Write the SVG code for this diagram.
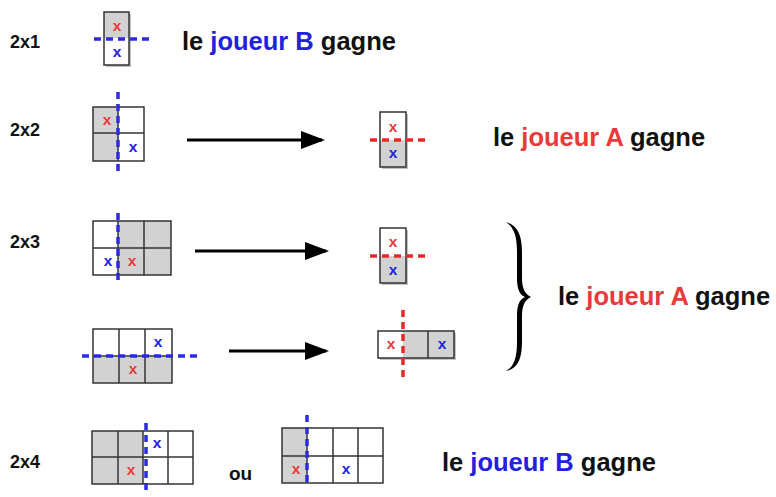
<svg xmlns="http://www.w3.org/2000/svg" width="776" height="497" viewBox="0 0 776 497">
<style>
text{font-family:"Liberation Sans",Arial,sans-serif;font-weight:bold}
.lbl{font-size:18px;fill:#111}
.big{font-size:25.5px;fill:#111}
.red{fill:#e83a3a}
.blue{fill:#2222dd}
.mk{font-size:15.5px;text-anchor:middle}
.g{fill:#d2d2d2}
.w{fill:#fff}
.grid{fill:none;stroke:#333;stroke-width:1.5}
.bd{fill:none;stroke:#2a2ae0;stroke-width:3.5;stroke-dasharray:7,5}
.rd{fill:none;stroke:#e82828;stroke-width:3.5;stroke-dasharray:7,5}
.arr{stroke:#000;stroke-width:3;fill:none}
.sh{fill:#888;opacity:0.5}
</style>
<defs>
<marker id="ah" markerWidth="8" markerHeight="6" refX="7" refY="3" orient="auto" markerUnits="strokeWidth">
<path d="M0,0 L8,3 L0,6 z" fill="#000"/>
</marker>
</defs>

<g id="labels">
<text class="lbl" x="10" y="48">2x1</text>
<text class="lbl" x="10" y="136">2x2</text>
<text class="lbl" x="10" y="248">2x3</text>
<text class="lbl" x="10" y="468">2x4</text>
</g>

<g id="n2x1">
<rect class="sh" x="106" y="14" width="25" height="53"/>
<rect class="g" x="104" y="12" width="25" height="26"/>
<rect class="w" x="104" y="38" width="25" height="27"/>
<rect class="grid" x="104" y="12" width="25" height="53"/>
<text class="mk red" x="117" y="31">x</text>
<text class="mk blue" x="117" y="57">x</text>
<line class="bd" x1="94" y1="39" x2="150" y2="39"/>
</g>
<g id="t1">
<text class="big" x="182" y="50">le <tspan class="blue">joueur B</tspan> gagne</text>
</g>

<g id="n2x2">
<rect class="g" x="93" y="107" width="25" height="54"/>
<rect class="w" x="118" y="107" width="26" height="54"/>
<rect class="grid" x="93" y="107" width="51" height="54"/>
<line class="grid" x1="93" y1="133" x2="144" y2="133"/>
<line class="grid" x1="118" y1="107" x2="118" y2="161"/>
<text class="mk red" x="107" y="125">x</text>
<text class="mk blue" x="133" y="152">x</text>
<line class="bd" x1="118" y1="92" x2="118" y2="176"/>
</g>

<g id="r2x2">
<rect class="sh" x="382" y="114" width="26" height="55"/>
<rect class="w" x="380" y="112" width="26" height="28"/>
<rect class="g" x="380" y="140" width="26" height="27"/>
<rect class="grid" x="380" y="112" width="26" height="55"/>
<text class="mk red" x="393" y="132">x</text>
<text class="mk blue" x="393" y="158">x</text>
<line class="rd" x1="370" y1="140" x2="428" y2="140"/>
</g>
<g id="t2">
<text class="big" x="493" y="146">le <tspan class="red">joueur A</tspan> gagne</text>
</g>

<g id="n2x3a">
<rect class="w" x="93" y="221" width="25" height="54"/>
<rect class="g" x="118" y="221" width="53" height="54"/>
<rect class="grid" x="93" y="221" width="78" height="54"/>
<line class="grid" x1="93" y1="248" x2="171" y2="248"/>
<line class="grid" x1="118" y1="221" x2="118" y2="275"/>
<line class="grid" x1="144" y1="221" x2="144" y2="275"/>
<text class="mk blue" x="108" y="266">x</text>
<text class="mk red" x="132" y="266">x</text>
<line class="bd" x1="118" y1="213" x2="118" y2="283"/>
</g>

<g id="r2x3a">
<rect class="sh" x="382" y="230" width="26" height="55"/>
<rect class="w" x="380" y="228" width="26" height="28"/>
<rect class="g" x="380" y="256" width="26" height="27"/>
<rect class="grid" x="380" y="228" width="26" height="55"/>
<text class="mk red" x="393" y="247">x</text>
<text class="mk blue" x="393" y="275">x</text>
<line class="rd" x1="370" y1="256" x2="428" y2="256"/>
</g>

<g id="n2x3b">
<rect class="w" x="93" y="329" width="79" height="27"/>
<rect class="g" x="93" y="356" width="79" height="27"/>
<rect class="grid" x="93" y="329" width="79" height="54"/>
<line class="grid" x1="93" y1="356" x2="172" y2="356"/>
<line class="grid" x1="119" y1="329" x2="119" y2="383"/>
<line class="grid" x1="145" y1="329" x2="145" y2="383"/>
<text class="mk blue" x="158" y="347">x</text>
<text class="mk red" x="133" y="374">x</text>
<line class="bd" x1="82" y1="356" x2="202" y2="356"/>
</g>

<g id="r1x3">
<rect class="sh" x="380" y="333" width="76" height="27"/>
<rect class="w" x="378" y="331" width="25" height="27"/>
<rect class="g" x="403" y="331" width="51" height="27"/>
<rect class="grid" x="378" y="331" width="76" height="27"/>
<line class="grid" x1="428" y1="331" x2="428" y2="358"/>
<text class="mk red" x="391" y="349">x</text>
<text class="mk blue" x="442" y="349">x</text>
<line class="rd" x1="403" y1="310" x2="403" y2="378"/>
</g>

<g id="brace">
<path d="M506,222 C517,225 522,234 522,252 L522,278 C522,289 525,294 531,297 C525,300 522,305 522,316 L522,342 C522,360 517,369 506,371 C513,367 517,360 517,342 L517,316 C517,304 520,299 525,297 C520,295 517,290 517,278 L517,252 C517,234 513,227 506,222 Z" fill="#000"/>
</g>
<g id="t3">
<text class="big" x="558" y="305">le <tspan class="red">joueur A</tspan> gagne</text>
</g>

<g id="n2x4a">
<rect class="g" x="92" y="431" width="51" height="53"/>
<rect class="w" x="143" y="431" width="50" height="53"/>
<rect class="grid" x="92" y="431" width="101" height="53"/>
<line class="grid" x1="92" y1="457" x2="193" y2="457"/>
<line class="grid" x1="118" y1="431" x2="118" y2="484"/>
<line class="grid" x1="143" y1="431" x2="143" y2="484"/>
<line class="grid" x1="168" y1="431" x2="168" y2="484"/>
<text class="mk blue" x="157" y="448">x</text>
<text class="mk red" x="131" y="475">x</text>
<line class="bd" x1="146" y1="423" x2="146" y2="491"/>
</g>
<g id="ou">
<text x="229" y="480" style="font-size:19px;fill:#111">ou</text>
</g>
<g id="n2x4b">
<rect class="g" x="282" y="428" width="25" height="55"/>
<rect class="w" x="307" y="428" width="76" height="55"/>
<rect class="grid" x="282" y="428" width="101" height="55"/>
<line class="grid" x1="282" y1="456" x2="383" y2="456"/>
<line class="grid" x1="307" y1="428" x2="307" y2="483"/>
<line class="grid" x1="333" y1="428" x2="333" y2="483"/>
<line class="grid" x1="358" y1="428" x2="358" y2="483"/>
<text class="mk red" x="296" y="474">x</text>
<text class="mk blue" x="346" y="474">x</text>
<line class="bd" x1="307" y1="415" x2="307" y2="486"/>
</g>
<g id="t4">
<text class="big" x="442" y="471">le <tspan class="blue">joueur B</tspan> gagne</text>
</g>

<g id="connectors">
<line class="arr" x1="187" y1="140" x2="322" y2="140" marker-end="url(#ah)"/>
<line class="arr" x1="195" y1="251" x2="326" y2="251" marker-end="url(#ah)"/>
<line class="arr" x1="229" y1="351" x2="326" y2="351" marker-end="url(#ah)"/>
</g>
</svg>
